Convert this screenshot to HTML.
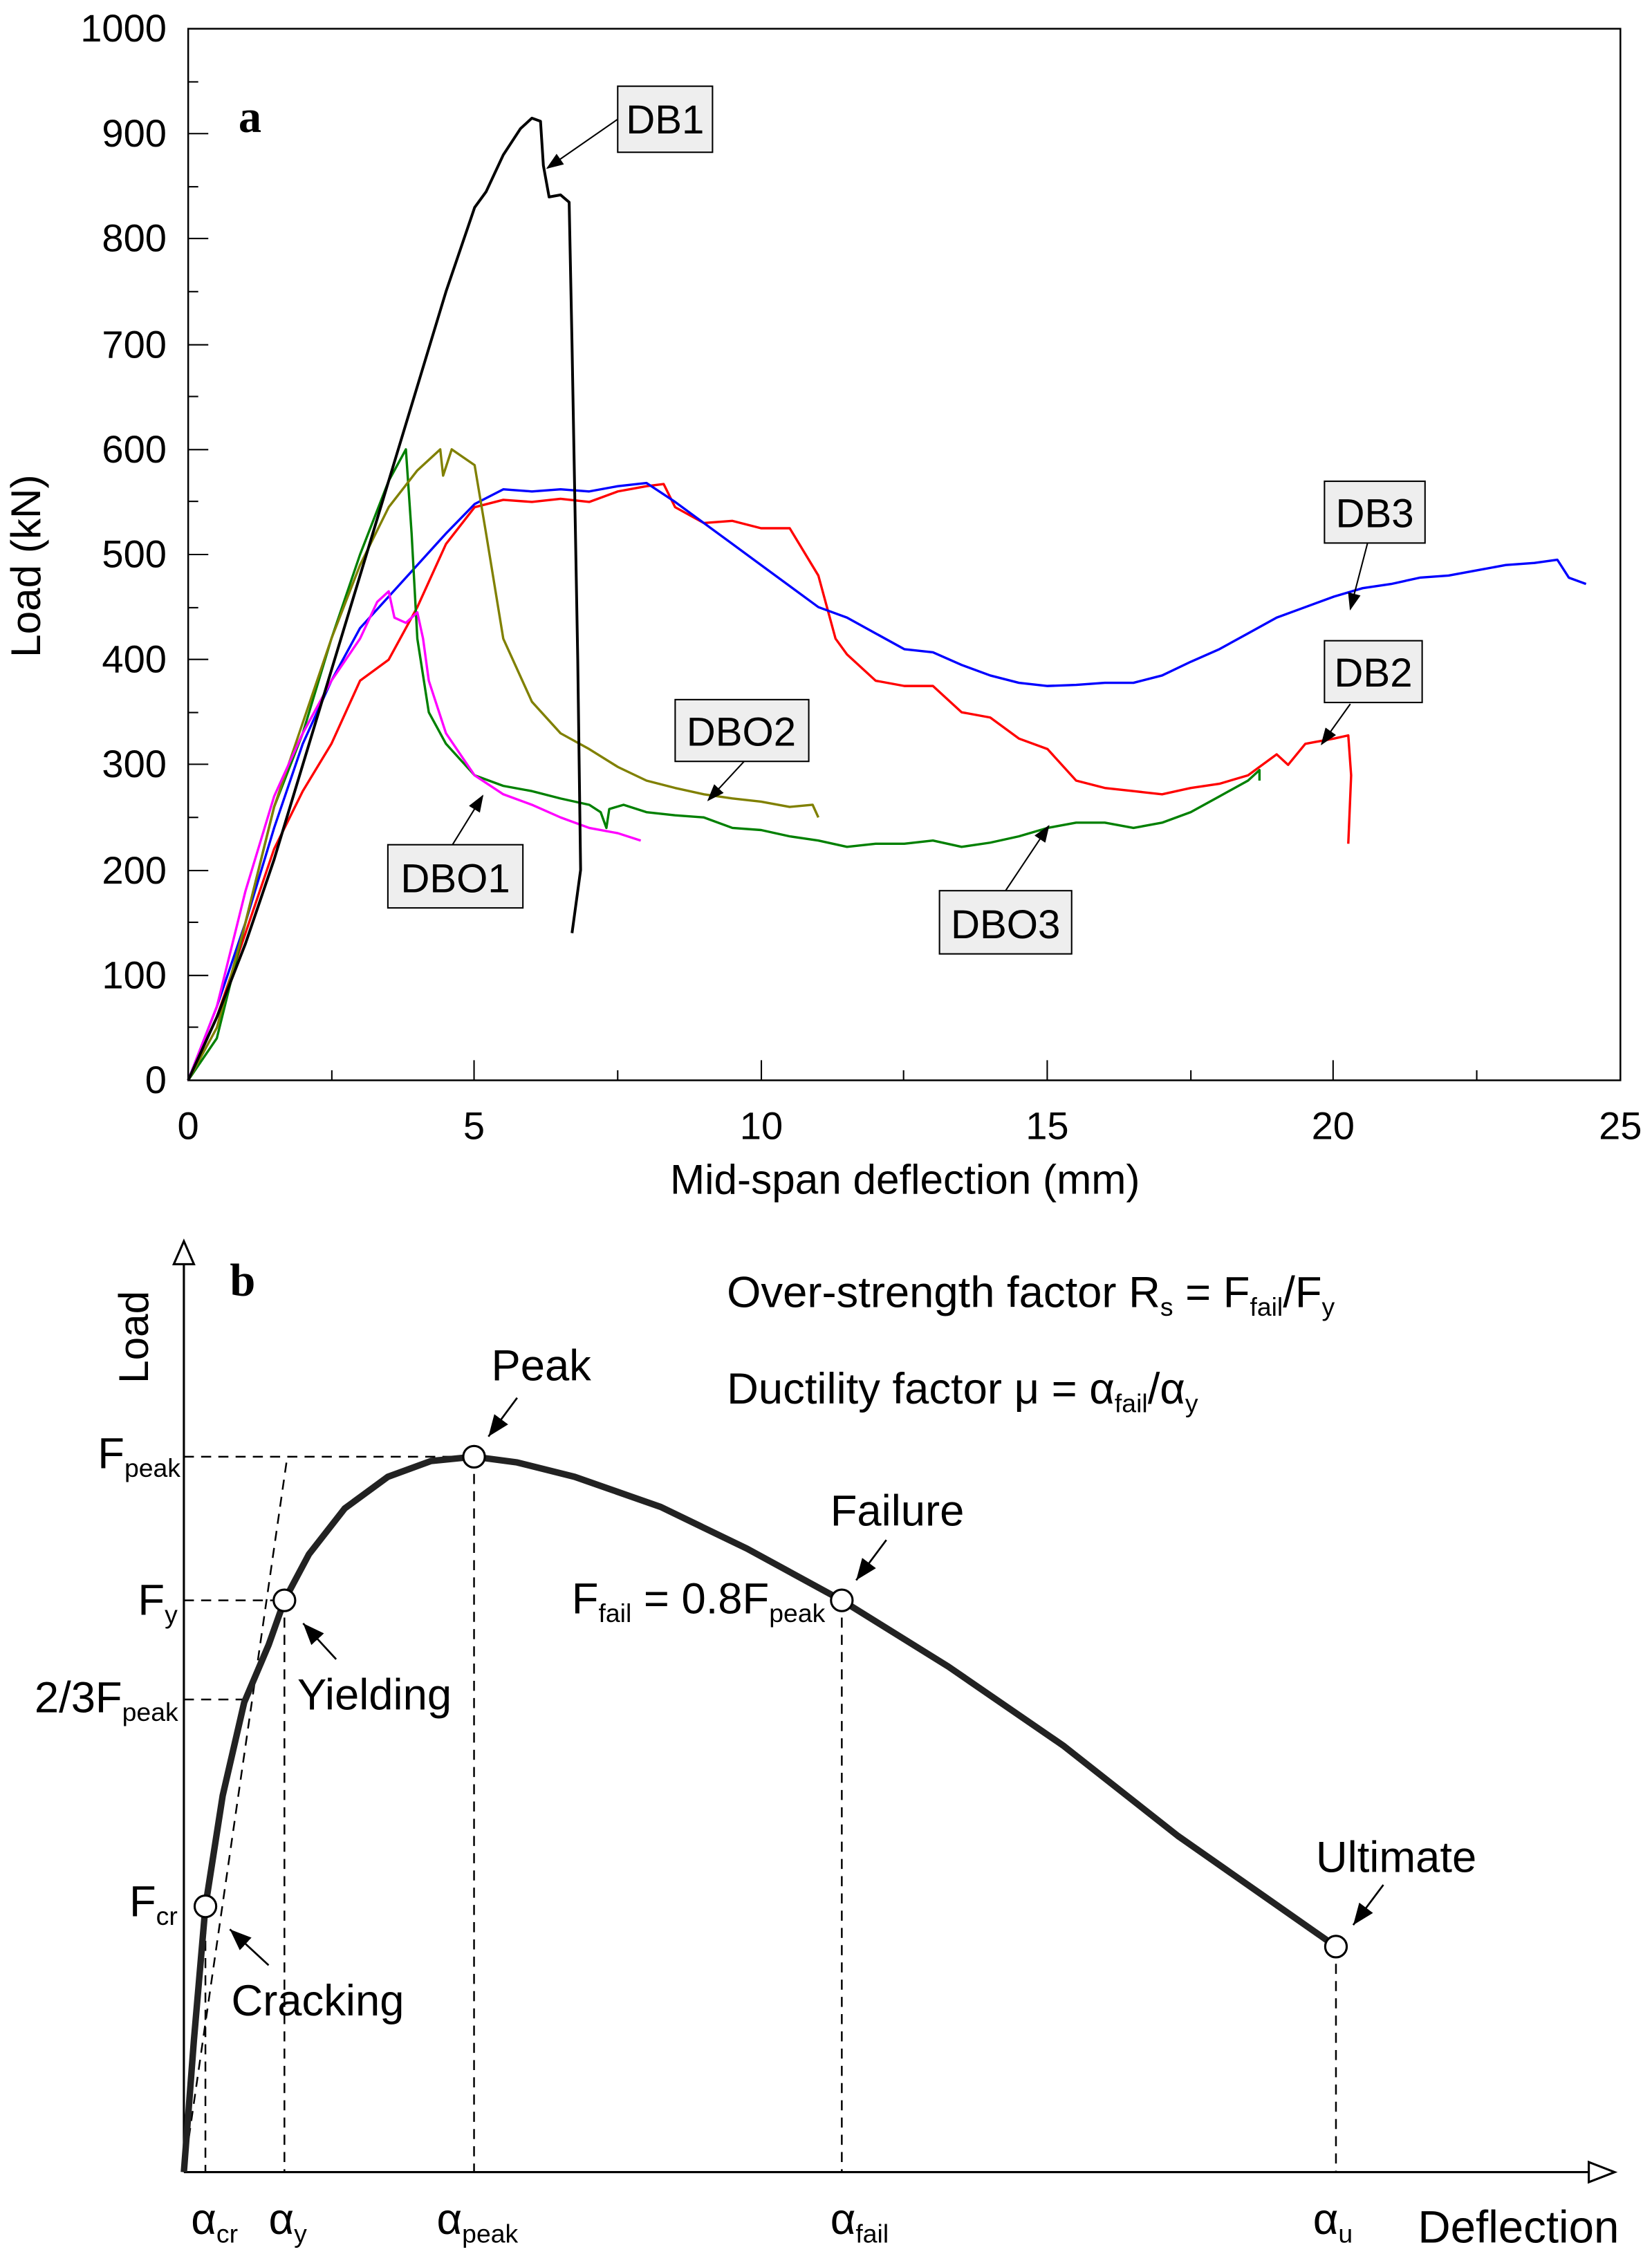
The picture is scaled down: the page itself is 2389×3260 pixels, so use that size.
<!DOCTYPE html>
<html><head><meta charset="utf-8"><style>html,body{margin:0;padding:0;background:#fff}svg{display:block}</style></head>
<body>
<svg width="2389" height="3260" viewBox="0 0 1150 1569" preserveAspectRatio="none" xmlns="http://www.w3.org/2000/svg" font-family="Liberation Sans, sans-serif">
<defs>
<marker id="ah" markerWidth="12" markerHeight="9" refX="11" refY="4.5" orient="auto" markerUnits="userSpaceOnUse"><path d="M0,0 L12,4.5 L0,9 Z" fill="#000"/></marker>
<marker id="ah2" markerWidth="16" markerHeight="12" refX="15" refY="6" orient="auto" markerUnits="userSpaceOnUse"><path d="M0,0 L15,6 L0,12 Z" fill="#000"/></marker>
</defs>
<!-- Panel a -->
<rect x="131" y="20" width="997" height="732" fill="none" stroke="#000" stroke-width="1.2"/>
<g stroke="#000" stroke-width="1">
<line x1="231" y1="752" x2="231" y2="745"/><line x1="330" y1="752" x2="330" y2="738"/><line x1="430" y1="752" x2="430" y2="745"/><line x1="530" y1="752" x2="530" y2="738"/><line x1="629" y1="752" x2="629" y2="745"/><line x1="729" y1="752" x2="729" y2="738"/><line x1="829" y1="752" x2="829" y2="745"/><line x1="928" y1="752" x2="928" y2="738"/><line x1="1028" y1="752" x2="1028" y2="745"/>
<line x1="131" y1="715" x2="138" y2="715"/><line x1="131" y1="679" x2="145" y2="679"/><line x1="131" y1="642" x2="138" y2="642"/><line x1="131" y1="606" x2="145" y2="606"/><line x1="131" y1="569" x2="138" y2="569"/><line x1="131" y1="532" x2="145" y2="532"/><line x1="131" y1="496" x2="138" y2="496"/><line x1="131" y1="459" x2="145" y2="459"/><line x1="131" y1="423" x2="138" y2="423"/><line x1="131" y1="386" x2="145" y2="386"/><line x1="131" y1="349" x2="138" y2="349"/><line x1="131" y1="313" x2="145" y2="313"/><line x1="131" y1="276" x2="138" y2="276"/><line x1="131" y1="240" x2="145" y2="240"/><line x1="131" y1="203" x2="138" y2="203"/><line x1="131" y1="166" x2="145" y2="166"/><line x1="131" y1="130" x2="138" y2="130"/><line x1="131" y1="93" x2="145" y2="93"/><line x1="131" y1="57" x2="138" y2="57"/>
</g>
<g font-size="27" text-anchor="end" fill="#000">
<text x="116" y="761">0</text><text x="116" y="688">100</text><text x="116" y="615">200</text><text x="116" y="541">300</text><text x="116" y="468">400</text><text x="116" y="395">500</text><text x="116" y="322">600</text><text x="116" y="249">700</text><text x="116" y="175">800</text><text x="116" y="102">900</text><text x="116" y="29">1000</text>
</g>
<g font-size="27" text-anchor="middle">
<text x="131" y="793">0</text><text x="330" y="793">5</text><text x="530" y="793">10</text><text x="729" y="793">15</text><text x="928" y="793">20</text><text x="1128" y="793">25</text>
<text x="630" y="831" font-size="29">Mid-span deflection (mm)</text>
<text transform="translate(28,394) rotate(-90)" font-size="29">Load (kN)</text>
</g>
<text x="166" y="92" font-family="Liberation Serif, serif" font-weight="bold" font-size="32">a</text>
<g transform="translate(131,752) scale(39.88,-0.732)" fill="none" stroke-width="3.4" stroke-linejoin="round">
<polyline vector-effect="non-scaling-stroke" stroke="#ff0000" points="0,0 0.5,60 1,140 1.5,220 2,275 2.5,320 3,380 3.5,400 4,450 4.5,510 5,545 5.5,552 6,550 6.5,553 7,550 7.5,560 8,565 8.3,567 8.5,545 9,530 9.5,532 10,525 10.5,525 11,480 11.3,420 11.5,405 12,380 12.5,375 13,375 13.5,350 14,345 14.5,325 15,315 15.5,285 16,278 16.5,275 17,272 17.5,278 18,282 18.5,290 19,310 19.2,300 19.5,320 20,325 20.25,328 20.3,290 20.25,225"/>
<polyline vector-effect="non-scaling-stroke" stroke="#0000ff" points="0,0 0.5,70 1,150 1.5,240 2,320 2.5,380 3,430 3.5,460 4,490 4.5,520 5,548 5.5,562 6,560 6.5,562 7,560 7.5,565 8,568 8.5,550 9,530 9.5,510 10,490 10.5,470 11,450 11.5,440 12,425 12.5,410 13,407 13.5,395 14,385 14.5,378 15,375 15.5,376 16,378 16.5,378 17,385 17.5,398 18,410 18.5,425 19,440 19.5,450 20,460 20.5,468 21,472 21.5,478 22,480 22.5,485 23,490 23.5,492 23.9,495 24.1,478 24.4,472"/>
<polyline vector-effect="non-scaling-stroke" stroke="#008000" points="0,0 0.5,40 1,150 1.5,260 2,330 2.5,420 3,500 3.5,570 3.8,600 3.9,520 4,420 4.2,350 4.5,320 5,290 5.5,280 6,275 6.5,268 7,262 7.2,255 7.3,240 7.35,258 7.6,262 8,255 8.5,252 9,250 9.5,240 10,238 10.5,232 11,228 11.5,222 12,225 12.5,225 13,228 13.5,222 14,226 14.5,232 15,240 15.5,245 16,245 16.5,240 17,245 17.5,255 18,270 18.5,285 18.7,295 18.7,285"/>
<polyline vector-effect="non-scaling-stroke" stroke="#808000" points="0,0 0.5,50 1,150 1.5,260 2,340 2.5,420 3,490 3.5,545 4,580 4.4,600 4.45,575 4.6,600 5,585 5.2,520 5.5,420 6,360 6.5,330 7,315 7.5,298 8,285 8.5,278 9,272 9.5,268 10,265 10.5,260 10.9,262 11,250"/>
<polyline vector-effect="non-scaling-stroke" stroke="#ff00ff" points="0,0 0.5,70 1,180 1.5,270 2,330 2.5,380 3,420 3.3,455 3.5,465 3.6,440 3.8,435 4,445 4.1,420 4.2,380 4.5,330 5,290 5.5,272 6,262 6.5,250 7,240 7.5,235 7.9,228"/>
<polyline vector-effect="non-scaling-stroke" stroke="#000" stroke-width="4" points="0,0 0.5,60 1,130 1.5,210 2,300 2.5,390 3,480 3.5,570 4,660 4.5,750 5,830 5.2,845 5.5,880 5.8,905 6,915 6.15,912 6.2,870 6.3,840 6.5,842 6.65,835 6.7,700 6.8,400 6.85,200 6.75,160 6.7,140"/>
</g>
<g font-size="28" text-anchor="middle">
<g fill="#eeeeee" stroke="#000" stroke-width="1">
<rect x="430" y="60" width="66" height="46"/><rect x="922" y="335" width="70" height="43"/><rect x="922" y="446" width="68" height="43"/><rect x="470" y="487" width="93" height="43"/><rect x="270" y="588" width="94" height="44"/><rect x="654" y="620" width="92" height="44"/>
</g>
<text x="463" y="93">DB1</text><text x="957" y="367">DB3</text><text x="956" y="478">DB2</text><text x="516" y="519">DBO2</text><text x="317" y="621">DBO1</text><text x="700" y="653">DBO3</text>
</g>
<g stroke="#000" stroke-width="1" marker-end="url(#ah)">
<line x1="430" y1="83" x2="381" y2="117"/><line x1="952" y1="378" x2="940" y2="424"/><line x1="940" y1="490" x2="920" y2="518"/><line x1="518" y1="530" x2="493" y2="557"/><line x1="315" y1="588" x2="336" y2="554"/><line x1="700" y1="620" x2="730" y2="575"/>
</g>
<!-- Panel b -->
<line x1="128" y1="1512" x2="128" y2="868" stroke="#000" stroke-width="1.5"/>
<path d="M121,880 L128,864 L135,880 Z" fill="#fff" stroke="#000" stroke-width="1.5"/>
<line x1="128" y1="1512" x2="1108" y2="1512" stroke="#000" stroke-width="1.5"/>
<path d="M1106,1505 L1124,1512 L1106,1519 Z" fill="#fff" stroke="#000" stroke-width="1.5"/>
<g stroke="#000" stroke-width="1.2" stroke-dasharray="7,5" fill="none">
<line x1="128" y1="1014" x2="330" y2="1014"/>
<line x1="128" y1="1114" x2="198" y2="1114"/>
<line x1="128" y1="1183" x2="175" y2="1183"/>
<line x1="128" y1="1512" x2="200" y2="1014"/>
<line x1="143" y1="1327" x2="143" y2="1512"/>
<line x1="198" y1="1114" x2="198" y2="1512"/>
<line x1="330" y1="1014" x2="330" y2="1512"/>
<line x1="586" y1="1114" x2="586" y2="1512"/>
<line x1="930" y1="1355" x2="930" y2="1512"/>
</g>
<polyline fill="none" stroke="#222" stroke-width="4.5" stroke-linejoin="round" points="128,1512 135,1420 143,1327 155,1250 170,1185 187,1145 198,1114 215,1082 240,1050 270,1028 300,1017 330,1014 360,1018 400,1028 460,1049 520,1078 586,1114 660,1160 740,1215 820,1278 880,1320 930,1355"/>
<g fill="#fff" stroke="#000" stroke-width="1.5">
<circle cx="143" cy="1327" r="7.5"/><circle cx="198" cy="1114" r="7.5"/><circle cx="330" cy="1014" r="7.5"/><circle cx="586" cy="1114" r="7.5"/><circle cx="930" cy="1355" r="7.5"/>
</g>
<g stroke="#000" stroke-width="1.3" marker-end="url(#ah2)">
<line x1="360" y1="973" x2="340" y2="1000"/><line x1="617" y1="1072" x2="596" y2="1100"/><line x1="963" y1="1312" x2="942" y2="1340"/><line x1="234" y1="1155" x2="211" y2="1130"/><line x1="187" y1="1368" x2="160" y2="1343"/>
</g>
<text x="160" y="902" font-family="Liberation Serif, serif" font-weight="bold" font-size="32">b</text>
<text transform="translate(103,963) rotate(-90)" font-size="29">Load</text>
<g font-size="30.5" fill="#000">
<text x="506" y="910">Over-strength factor R<tspan font-size="18" dy="6">s</tspan><tspan dy="-6"> = F</tspan><tspan font-size="18" dy="6">fail</tspan><tspan dy="-6">/F</tspan><tspan font-size="18" dy="6">y</tspan></text>
<text x="506" y="977">Ductility factor μ = α<tspan font-size="18" dy="6">fail</tspan><tspan dy="-6">/α</tspan><tspan font-size="18" dy="6">y</tspan></text>
<text x="342" y="961">Peak</text>
<text x="578" y="1062">Failure</text>
<text x="916" y="1303">Ultimate</text>
<text x="207" y="1190">Yielding</text>
<text x="161" y="1403">Cracking</text>
<text x="398" y="1123">F<tspan font-size="18" dy="6">fail</tspan><tspan dy="-6"> = 0.8F</tspan><tspan font-size="18" dy="6">peak</tspan></text>
<text x="68" y="1022">F<tspan font-size="18" dy="6">peak</tspan></text>
<text x="96" y="1124">F<tspan font-size="18" dy="6">y</tspan></text>
<text x="24" y="1192">2/3F<tspan font-size="18" dy="6">peak</tspan></text>
<text x="90" y="1334">F<tspan font-size="18" dy="6">cr</tspan></text>
<text x="133" y="1555">α<tspan font-size="18" dy="6">cr</tspan></text>
<text x="187" y="1555">α<tspan font-size="18" dy="6">y</tspan></text>
<text x="304" y="1555">α<tspan font-size="18" dy="6">peak</tspan></text>
<text x="578" y="1555">α<tspan font-size="18" dy="6">fail</tspan></text>
<text x="914" y="1555">α<tspan font-size="18" dy="6">u</tspan></text>
<text x="987" y="1561" font-size="31.5">Deflection</text>
</g>
</svg>
</body></html>
